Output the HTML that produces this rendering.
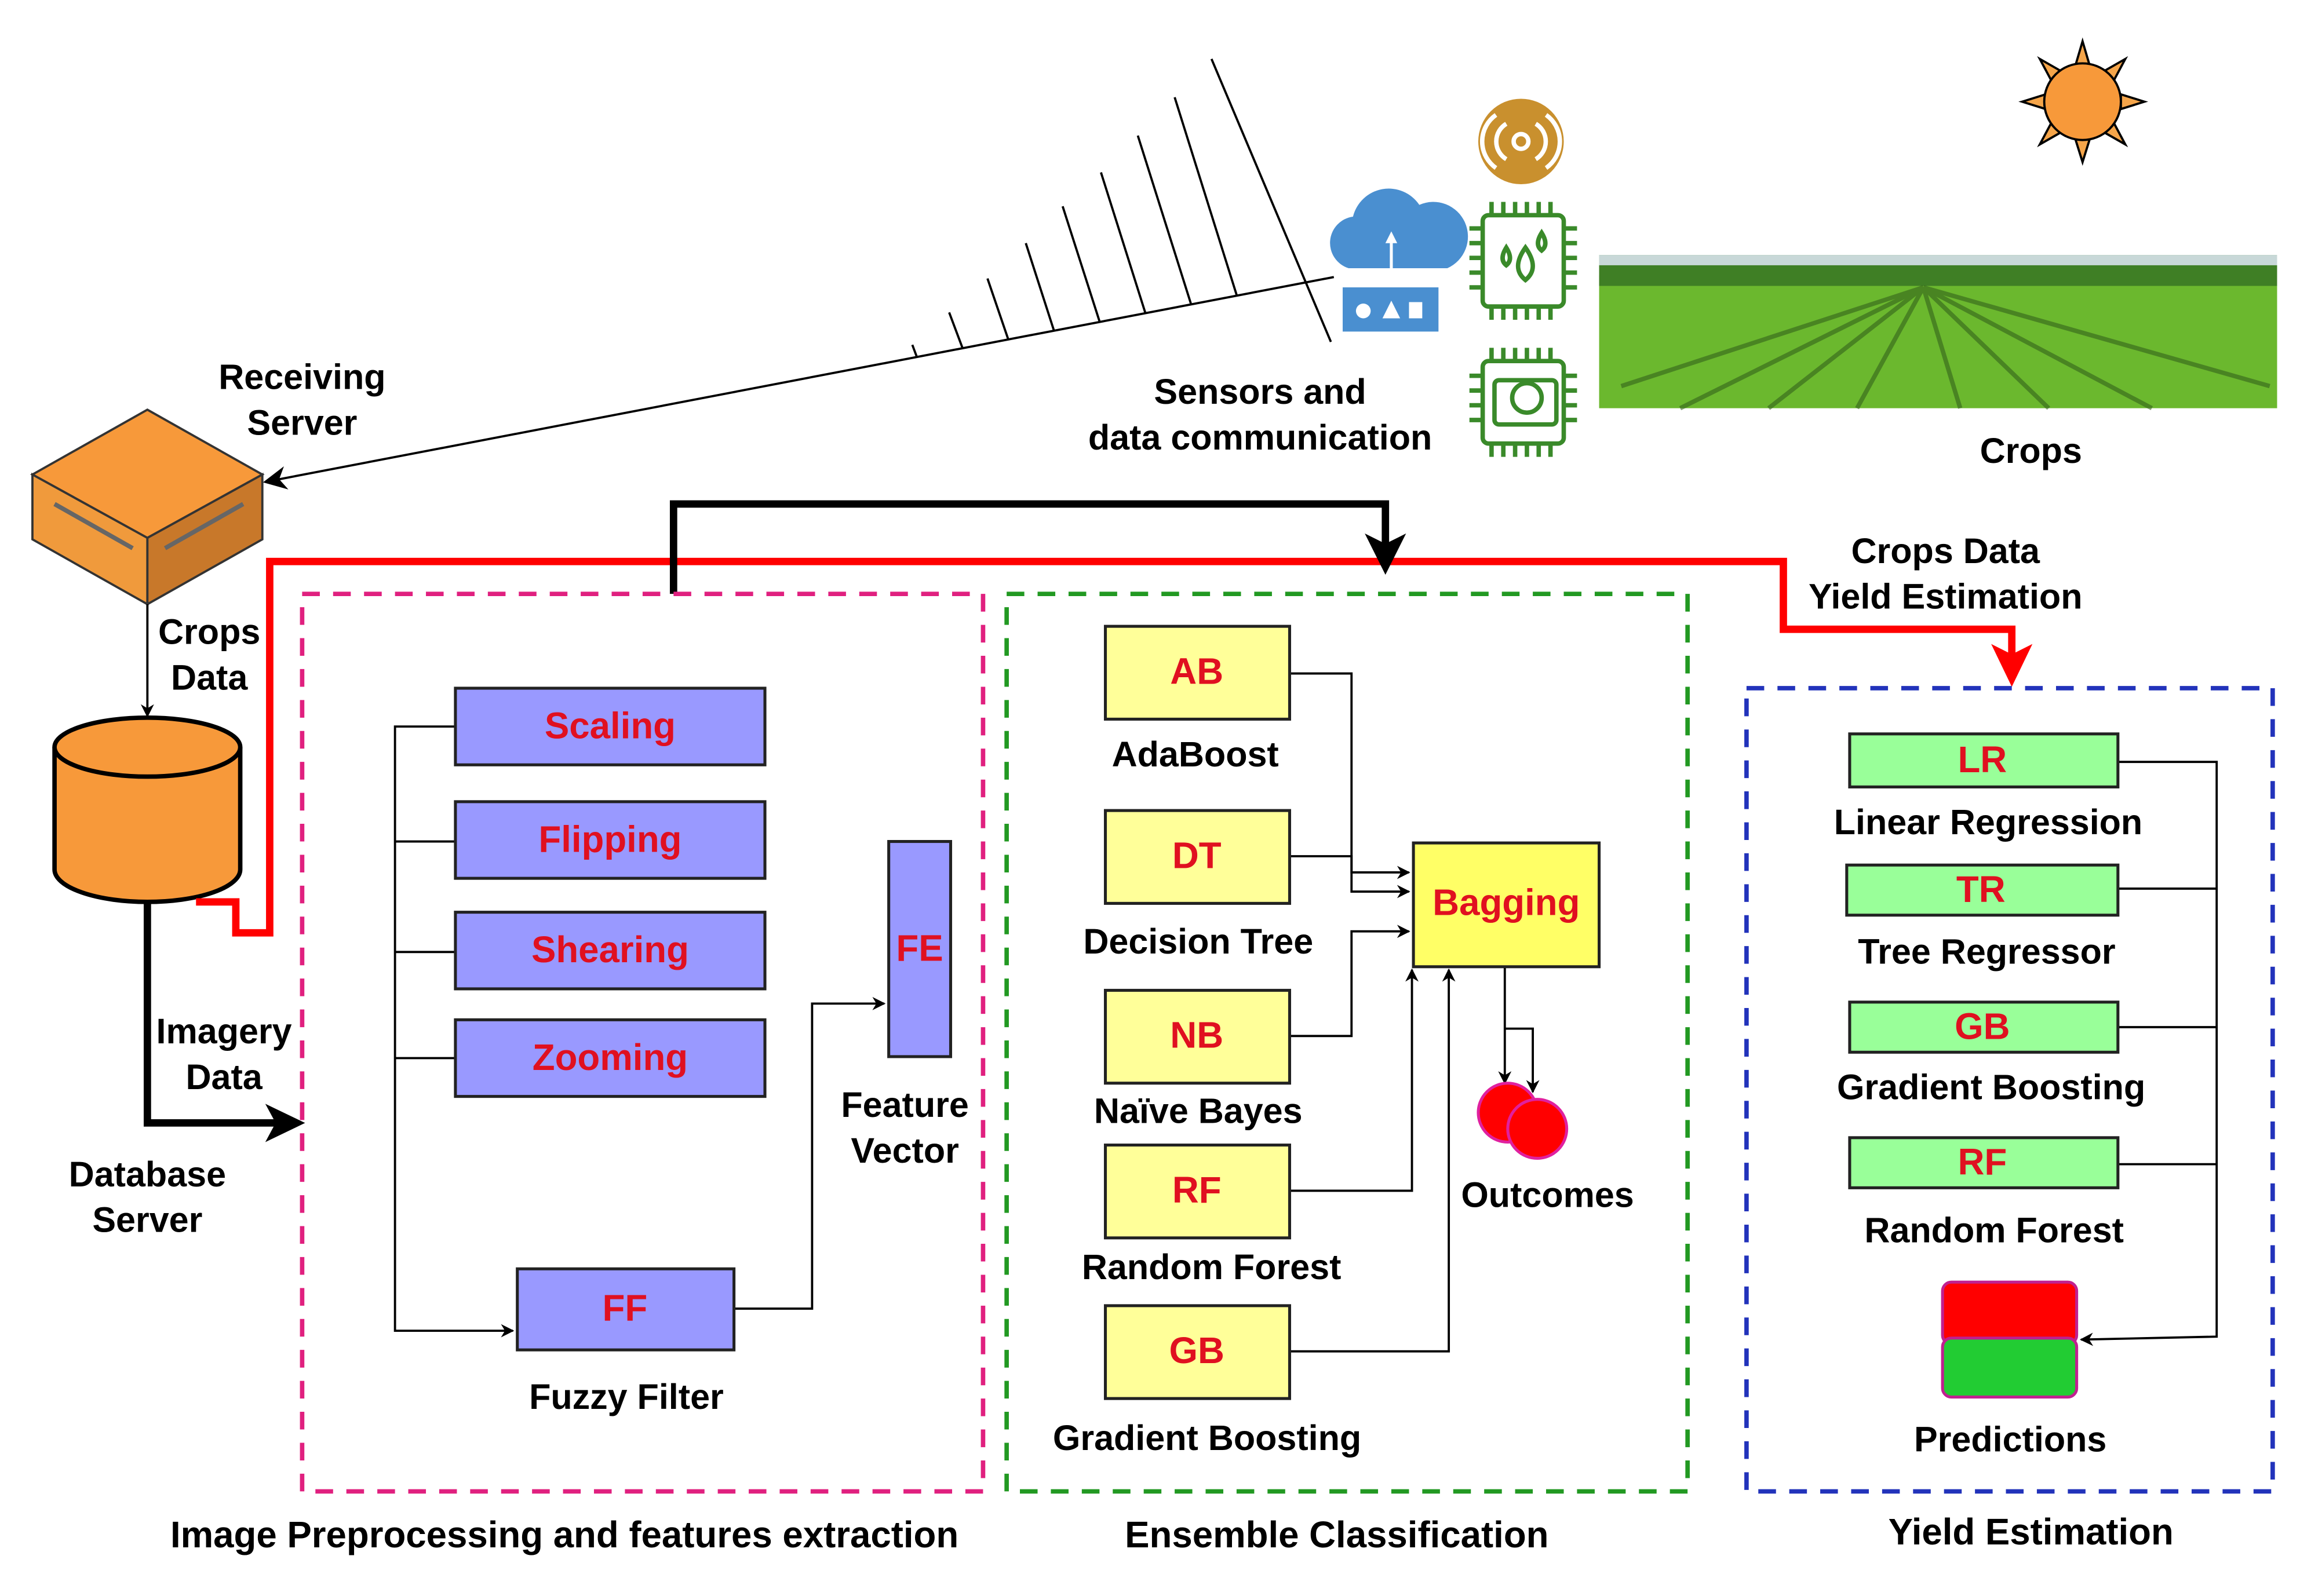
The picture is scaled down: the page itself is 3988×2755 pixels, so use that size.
<!DOCTYPE html>
<html><head><style>html,body{margin:0;padding:0;background:#fff}svg{display:block}text{font-family:"Liberation Sans",sans-serif;font-weight:bold}</style></head>
<body>
<svg width="3988" height="2755" viewBox="0 0 1568 1083" preserveAspectRatio="none" xmlns="http://www.w3.org/2000/svg">
<defs>
<marker id="a" viewBox="0 0 10 10" refX="9" refY="5" markerWidth="9" markerHeight="9" markerUnits="userSpaceOnUse" orient="auto"><path d="M0,0 L10,5 L0,10 L3,5z" fill="#000"/></marker>
<marker id="as" viewBox="0 0 10 10" refX="9" refY="5" markerWidth="16" markerHeight="16" markerUnits="userSpaceOnUse" orient="auto"><path d="M0,0 L10,5 L0,10 L3,5z" fill="#000"/></marker>
</defs>
<!-- sun -->
<g stroke="#000" stroke-width="1.5" fill="#f5a54a">
<polygon points="1413,28 1408,45 1418,45"/><polygon points="1413,110 1408,94 1418,94"/>
<polygon points="1372,69 1388,64 1388,74"/><polygon points="1455,69 1439,64 1439,74"/>
<polygon points="1384,40 1392,55 1398,48"/><polygon points="1442,40 1434,55 1428,48"/>
<polygon points="1384,98 1392,83 1398,90"/><polygon points="1442,98 1434,83 1428,90"/>
<circle cx="1413" cy="69" r="26" fill="#f7993a"/></g>
<!-- field -->
<rect x="1085" y="173" width="460" height="104" fill="#6bb82e"/>
<rect x="1085" y="173" width="460" height="14" fill="#c8d8d8"/>
<rect x="1085" y="180" width="460" height="14" fill="#3f7f25"/>
<g stroke="#2f5a1a" stroke-width="3" opacity="0.55"><line x1="1305" y1="195" x2="1100" y2="262"/><line x1="1305" y1="195" x2="1140" y2="277"/><line x1="1305" y1="195" x2="1200" y2="277"/><line x1="1305" y1="195" x2="1260" y2="277"/><line x1="1305" y1="195" x2="1330" y2="277"/><line x1="1305" y1="195" x2="1390" y2="277"/><line x1="1305" y1="195" x2="1460" y2="277"/><line x1="1305" y1="195" x2="1540" y2="262"/></g>
<text x="1378" y="314" font-size="24" text-anchor="middle">Crops</text>
<!-- sensors -->
<circle cx="1032" cy="96" r="29" fill="#c9902e"/>
<g fill="none" stroke="#fff" stroke-width="3"><circle cx="1032" cy="96" r="5"/><path d="M1022,84 a14,14 0 0 0 0,24 M1042,84 a14,14 0 0 1 0,24 M1015,78 a22,22 0 0 0 0,36 M1049,78 a22,22 0 0 1 0,36"/></g>
<g fill="none" stroke="#3a8a2a" stroke-width="3"><rect x="1006" y="146" width="55" height="62" rx="4"/><rect x="1006" y="245" width="55" height="56" rx="4"/>
<path d="M1012,137v9M1020,137v9M1028,137v9M1036,137v9M1044,137v9M1052,137v9M1012,208v9M1020,208v9M1028,208v9M1036,208v9M1044,208v9M1052,208v9M997,155h9M997,165h9M997,175h9M997,185h9M997,195h9M1061,155h9M1061,165h9M1061,175h9M1061,185h9M1061,195h9"/>
<path d="M1012,236v9M1020,236v9M1028,236v9M1036,236v9M1044,236v9M1052,236v9M1012,301v9M1020,301v9M1028,301v9M1036,301v9M1044,301v9M1052,301v9M997,255h9M997,265h9M997,275h9M997,285h9M1061,255h9M1061,265h9M1061,275h9M1061,285h9"/>
<circle cx="1036" cy="270" r="10"/><rect x="1014" y="258" width="42" height="30" rx="3"/><path d="M1035,168 q-10,14 0,22 q10,-8 0,-22z M1022,168 q-5,8 0,12 q5,-4 0,-12z M1046,158 q-5,8 0,12 q5,-4 0,-12z"/></g>
<!-- cloud -->
<path d="M915,182 a18,18 0 0 1 3,-35 a25,25 0 0 1 45,-8 a20,20 0 0 1 19,43z" fill="#4a8fd0"/>
<rect x="911" y="195" width="65" height="30" fill="#4a8fd0"/>
<line x1="944" y1="195" x2="944" y2="160" stroke="#fff" stroke-width="2"/><polygon points="940,165 944,157 948,165" fill="#fff"/>
<circle cx="925" cy="211" r="5" fill="#fff"/><polygon points="938,216 944,204 950,216" fill="#fff"/><rect x="956" y="205" width="9" height="11" fill="#fff"/>
<text x="855" y="274" font-size="24" text-anchor="middle">Sensors and</text>
<text x="855" y="305" font-size="24" text-anchor="middle">data communication</text>
<!-- antenna -->
<g stroke="#000" stroke-width="1.5">
<line x1="905" y1="188" x2="180" y2="327" marker-end="url(#as)"/>
<line x1="622" y1="242" x2="619" y2="234"/>
<line x1="653" y1="236" x2="644" y2="212"/>
<line x1="684" y1="230" x2="670" y2="189"/>
<line x1="715" y1="224" x2="696" y2="165"/>
<line x1="746" y1="218" x2="721" y2="140"/>
<line x1="777" y1="212" x2="747" y2="117"/>
<line x1="808" y1="206" x2="772" y2="92"/>
<line x1="839" y1="200" x2="797" y2="66"/>
<line x1="903" y1="232" x2="822" y2="40"/></g>
<!-- receiving server -->
<polygon points="22,322 100,278 178,322 100,365" fill="#f7993a" stroke="#333" stroke-width="1.5"/>
<polygon points="22,322 100,365 100,410 22,366" fill="#f09a3c" stroke="#333" stroke-width="1.5"/>
<polygon points="178,322 100,365 100,410 178,366" fill="#c8782a" stroke="#333" stroke-width="1.5"/>
<line x1="37" y1="342" x2="90" y2="372" stroke="#666" stroke-width="3"/><line x1="112" y1="372" x2="165" y2="342" stroke="#666" stroke-width="3"/>
<text x="205" y="264" font-size="24" text-anchor="middle">Receiving</text>
<text x="205" y="295" font-size="24" text-anchor="middle">Server</text>
<line x1="100" y1="410" x2="100" y2="486" stroke="#000" stroke-width="1.5" marker-end="url(#a)"/>
<text x="142" y="437" font-size="24" text-anchor="middle">Crops</text>
<text x="142" y="468" font-size="24" text-anchor="middle">Data</text>
<!-- cylinder -->
<path d="M37,507 v83 a63,22 0 0 0 126,0 v-83" fill="#f7993a" stroke="#000" stroke-width="3"/>
<ellipse cx="100" cy="507" rx="63" ry="20" fill="#f7993a" stroke="#000" stroke-width="3"/>
<text x="100" y="805" font-size="24" text-anchor="middle">Database</text>
<text x="100" y="836" font-size="24" text-anchor="middle">Server</text>
<polyline points="100,612 100,762 192,762" fill="none" stroke="#000" stroke-width="5"/>
<polygon points="207,762 180,749 187,762 180,775" fill="#000"/>
<text x="152" y="708" font-size="24" text-anchor="middle">Imagery</text>
<text x="152" y="739" font-size="24" text-anchor="middle">Data</text>
<!-- red line -->
<polyline points="133,612 160,612 160,633 183,633 183,381 1210,381 1210,427 1365,427 1365,450" fill="none" stroke="#f00" stroke-width="5"/>
<polygon points="1365,466 1351,437 1365,444 1379,437" fill="#f00"/>
<text x="1320" y="382" font-size="24" text-anchor="middle">Crops Data</text>
<text x="1320" y="413" font-size="24" text-anchor="middle">Yield Estimation</text>
<!-- black top -->
<polyline points="457,403 457,342 940,342 940,372" fill="none" stroke="#000" stroke-width="5"/>
<polygon points="940,390 926,362 940,369 954,362" fill="#000"/>
<!-- dashed boxes -->
<rect x="205" y="403" width="462" height="609" fill="none" stroke="#e0207f" stroke-width="3" stroke-dasharray="12,9"/>
<rect x="683" y="403" width="462" height="609" fill="none" stroke="#229922" stroke-width="3" stroke-dasharray="12,9"/>
<rect x="1185" y="467" width="357" height="545" fill="none" stroke="#2233bb" stroke-width="3" stroke-dasharray="12,9"/>
<text x="383" y="1050" font-size="25" text-anchor="middle">Image Preprocessing and features extraction</text>
<text x="907" y="1050" font-size="25" text-anchor="middle">Ensemble Classification</text>
<text x="1378" y="1048" font-size="25" text-anchor="middle">Yield Estimation</text>
<!-- preprocessing -->
<g stroke="#000" stroke-width="1.5" fill="none"><polyline points="309,493 268,493 268,903 348,903" marker-end="url(#a)"/><line x1="268" y1="571" x2="309" y2="571"/><line x1="268" y1="646" x2="309" y2="646"/><line x1="268" y1="718" x2="309" y2="718"/><polyline points="498,888 551,888 551,681 600,681" marker-end="url(#a)"/></g>
<g fill="#9999ff" stroke="#222" stroke-width="2"><rect x="309" y="467" width="210" height="52"/><rect x="309" y="544" width="210" height="52"/><rect x="309" y="619" width="210" height="52"/><rect x="309" y="692" width="210" height="52"/><rect x="351" y="861" width="147" height="55"/><rect x="603" y="571" width="42" height="146"/></g>
<g fill="#e01020" font-size="25" text-anchor="middle"><text x="414" y="501">Scaling</text><text x="414" y="578">Flipping</text><text x="414" y="653">Shearing</text><text x="414" y="726">Zooming</text><text x="424" y="896">FF</text><text x="624" y="652">FE</text></g>
<text x="425" y="956" font-size="24" text-anchor="middle">Fuzzy Filter</text>
<text x="614" y="758" font-size="24" text-anchor="middle">Feature</text>
<text x="614" y="789" font-size="24" text-anchor="middle">Vector</text>
<!-- ensemble -->
<g stroke="#000" stroke-width="1.5" fill="none">
<polyline points="875,457 917,457 917,605 956,605" marker-end="url(#a)"/>
<polyline points="875,581 917,581 917,592 956,592" marker-end="url(#a)"/>
<polyline points="875,703 917,703 917,632 956,632" marker-end="url(#a)"/>
<polyline points="875,808 958,808 958,658" marker-end="url(#a)"/>
<polyline points="875,917 983,917 983,658" marker-end="url(#a)"/>
<polyline points="1021,656 1021,735" marker-end="url(#a)"/>
<polyline points="1021,698 1040,698 1040,741" marker-end="url(#a)"/></g>
<g fill="#ffff99" stroke="#222" stroke-width="2"><rect x="750" y="425" width="125" height="63"/><rect x="750" y="550" width="125" height="63"/><rect x="750" y="672" width="125" height="63"/><rect x="750" y="777" width="125" height="63"/><rect x="750" y="886" width="125" height="63"/><rect x="959" y="572" width="126" height="84" fill="#ffff66"/></g>
<g fill="#e01020" font-size="25" text-anchor="middle"><text x="812" y="464">AB</text><text x="812" y="589">DT</text><text x="812" y="711">NB</text><text x="812" y="816">RF</text><text x="812" y="925">GB</text><text x="1022" y="621">Bagging</text></g>
<g font-size="24" text-anchor="middle"><text x="811" y="520">AdaBoost</text><text x="813" y="647">Decision Tree</text><text x="813" y="762">Naïve Bayes</text><text x="822" y="868">Random Forest</text><text x="819" y="984">Gradient Boosting</text><text x="1050" y="819">Outcomes</text></g>
<circle cx="1023" cy="755" r="20" fill="#f00" stroke="#e0209f" stroke-width="2"/><circle cx="1043" cy="766" r="20" fill="#f00" stroke="#e0209f" stroke-width="2"/>
<!-- yield -->
<g stroke="#000" stroke-width="1.5" fill="none"><polyline points="1437,517 1504,517 1504,907 1412,909" marker-end="url(#a)"/><line x1="1437" y1="603" x2="1504" y2="603"/><line x1="1437" y1="697" x2="1504" y2="697"/><line x1="1437" y1="790" x2="1504" y2="790"/></g>
<g fill="#99ff99" stroke="#222" stroke-width="2"><rect x="1255" y="498" width="182" height="36"/><rect x="1253" y="587" width="184" height="34"/><rect x="1255" y="680" width="182" height="34"/><rect x="1255" y="772" width="182" height="34"/></g>
<g fill="#e01020" font-size="25" text-anchor="middle"><text x="1345" y="524">LR</text><text x="1344" y="612">TR</text><text x="1345" y="705">GB</text><text x="1345" y="797">RF</text></g>
<g font-size="24" text-anchor="middle"><text x="1349" y="566">Linear Regression</text><text x="1348" y="654">Tree Regressor</text><text x="1351" y="746">Gradient Boosting</text><text x="1353" y="843">Random Forest</text><text x="1364" y="985">Predictions</text></g>
<rect x="1318" y="870" width="91" height="42" rx="6" fill="#ff0000" stroke="#c02090" stroke-width="2"/>
<rect x="1318" y="908" width="91" height="40" rx="6" fill="#22cc33" stroke="#c02090" stroke-width="2"/>
</svg>
</body></html>
